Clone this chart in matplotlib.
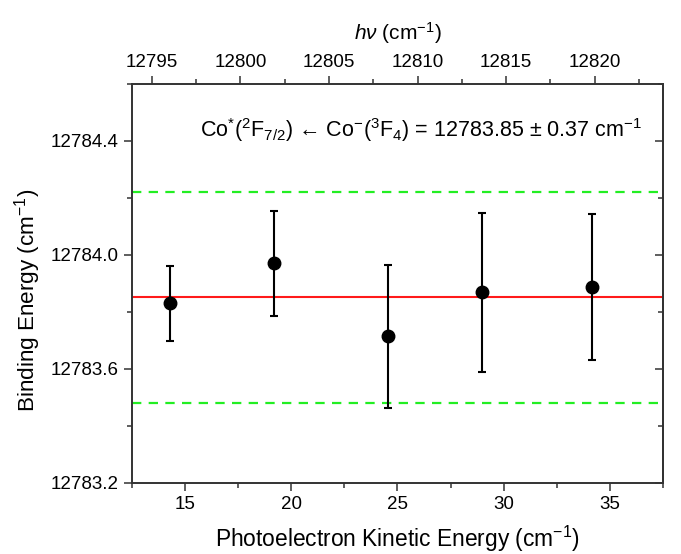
import matplotlib
matplotlib.use('Agg')
import matplotlib.pyplot as plt
from matplotlib.ticker import MultipleLocator, FormatStrFormatter

plt.rcParams['font.family'] = ['Liberation Sans', 'DejaVu Sans']
plt.rcParams['mathtext.fontset'] = 'custom'
plt.rcParams['mathtext.rm'] = 'Liberation Sans'
plt.rcParams['mathtext.it'] = 'Liberation Sans:italic'
plt.rcParams['mathtext.bf'] = 'Liberation Sans:bold'

# data
kinetic_energy = [14.3, 19.2, 24.55, 29.0, 34.15]
binding_energy = [12783.83, 12783.97, 12783.713, 12783.868, 12783.886]
errors = [0.132, 0.185, 0.25, 0.278, 0.257]
mean_value = 12783.85
uncertainty = 0.37
top_xlim = [12793.87, 12823.87]

fig = plt.figure(figsize=(6.81, 5.54), dpi=100)
ax = fig.add_axes([0.1938, 0.129, 0.7798, 0.7194])

ax.axhline(mean_value, color='#ff1a1a', lw=1.5, zorder=2)
ax.axhline(mean_value + uncertainty, color='#22ee22', lw=1.6, dashes=(4.2, 3.3), zorder=2)
ax.axhline(mean_value - uncertainty, color='#22ee22', lw=1.6, dashes=(4.2, 3.3), zorder=2)
ax.errorbar(kinetic_energy, binding_energy, yerr=errors, fmt='o', color='black',
            markersize=9, elinewidth=1.5, capsize=3, capthick=1.5, zorder=3)

ax.set_xlim(12.5, 37.5)
ax.set_ylim(12783.2, 12784.6)
ax.xaxis.set_major_locator(MultipleLocator(5))
ax.xaxis.set_minor_locator(MultipleLocator(2.5))
ax.set_yticks([12783.2, 12783.6, 12784.0, 12784.4])
ax.yaxis.set_minor_locator(MultipleLocator(0.2))
ax.yaxis.set_major_formatter(FormatStrFormatter('%.1f'))

ax.tick_params(axis='both', which='both', labelsize=13.5, color='#333333', width=1.1)
ax.tick_params(axis='both', which='major', length=6)
ax.tick_params(axis='both', which='minor', length=3.5)
for s in ax.spines.values():
    s.set_linewidth(1.2)
    s.set_color('#333333')

# right side: inward ticks, no labels
right = ax.secondary_yaxis('right')
right.set_yticks([12783.2, 12783.6, 12784.0, 12784.4])
right.yaxis.set_minor_locator(MultipleLocator(0.2))
right.tick_params(axis='y', which='both', direction='in', labelright=False,
                  color='#333333', width=1.1)
right.tick_params(axis='y', which='major', length=6)
right.tick_params(axis='y', which='minor', length=3.5)
right.spines['right'].set_linewidth(1.2)
right.spines['right'].set_color('#333333')

ax.set_xlabel('Photoelectron Kinetic Energy (cm$^{-1}$)', fontsize=16.4, labelpad=8)
ax.set_ylabel('Binding Energy (cm$^{-1}$)', fontsize=16.2)
ax.yaxis.set_label_coords(-0.168, 0.457)

ax.text(0.96, 0.885,
        'Co$^{*}$($^{2}$F$_{7/2}$) \u2190 Co$^{-}$($^{3}$F$_{4}$) = 12783.85 $\\pm$ 0.37 cm$^{-1}$',
        transform=ax.transAxes, ha='right', va='center', fontsize=15.5)

top = ax.twiny()
top.set_xlim(top_xlim)
top.xaxis.set_major_locator(MultipleLocator(5))
top.xaxis.set_minor_locator(MultipleLocator(2.5))
top.tick_params(axis='x', which='both', labelsize=13.5, color='#333333', width=1.1)
top.tick_params(axis='x', which='major', length=6)
top.tick_params(axis='x', which='minor', length=3.5)
for s in top.spines.values():
    s.set_linewidth(1.2)
    s.set_color('#333333')
top.set_xlabel(r'$h\nu$ (cm$^{-1}$)', fontsize=15, labelpad=10)

fig.savefig('out.png', dpi=100)
